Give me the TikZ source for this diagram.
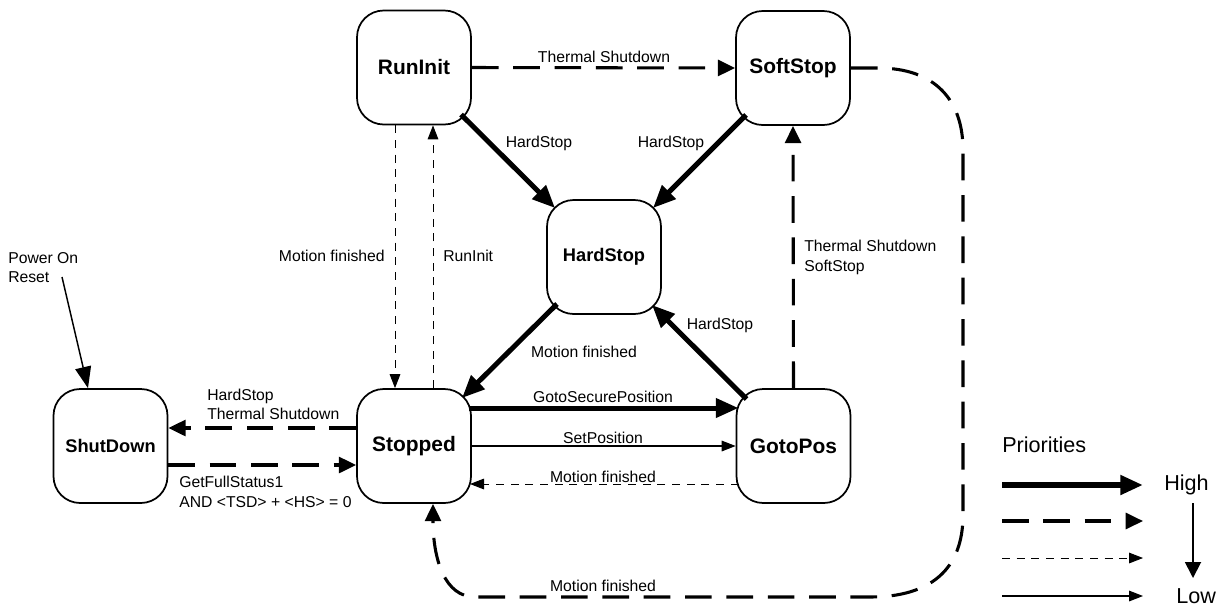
\documentclass[tikz,border=0pt]{standalone}
\usepackage{fontspec}
\setmainfont{Liberation Sans}
\usetikzlibrary{arrows.meta,calc}
\begin{document}
\begin{tikzpicture}[x=0.75pt,y=-0.75pt,
  state/.style={draw, line width=1.3pt, rounded corners=20pt, minimum width=85.5pt, minimum height=85.5pt, inner sep=0pt, font=\fontsize{15.7}{18}\selectfont\bfseries},
  smallstate/.style={state, font=\fontsize{13.7}{16}\selectfont\bfseries},
  lbl/.style={font=\fontsize{11.8}{14.6}\selectfont, inner sep=0pt, align=left},
  biglbl/.style={font=\fontsize{16.2}{19}\selectfont, inner sep=0pt},
  pone/.style={line width=3.75pt, -{Triangle[length=17pt,width=14pt]}},
  ptwo/.style={line width=2.3pt, dash pattern=on 20pt off 11pt, -{Triangle[length=13pt,width=12pt]}},
  pthree/.style={line width=0.7pt, dash pattern=on 6pt off 5pt, -{Triangle[length=10.5pt,width=8pt]}},
  pfour/.style={line width=0.8pt, -{Triangle[length=10.5pt,width=8pt]}},
]
\useasboundingbox (0,0) rectangle (1219,608);

% states
\node[state] (RunInit) at (414,67.5) {RunInit};
\node[state] (SoftStop) at (793,68) {SoftStop};
\node[smallstate] (HardStop) at (604,257) {HardStop};
\node[state] (Stopped) at (414,446) {Stopped};
\node[state] (GotoPos) at (793.5,446) {GotoPos};
\node[smallstate] (ShutDown) at (110.5,446) {ShutDown};

% transitions
\draw[ptwo] (RunInit.east) -- (SoftStop.west);
\draw[pone] ($(RunInit)+(47,47)$) -- ($(HardStop)+(-49,-49)$);
\draw[pone] ($(SoftStop)+(-47,47)$) -- ($(HardStop)+(49,-49)$);
\draw[pone] ($(HardStop)+(-47,47)$) -- ($(Stopped)+(48,-48)$);
\draw[pone] ($(GotoPos)+(-47,-47)$) -- ($(HardStop)+(48,48)$);
\draw[pone] ($(Stopped)+(55,-38)$) -- ($(GotoPos)+(-55,-38)$);
\draw[pfour] (Stopped.east) -- (GotoPos.west);
\draw[pthree] ($(GotoPos)+(-55,38)$) -- ($(Stopped)+(56,38)$);
\draw[ptwo] (GotoPos.north) -- (SoftStop.south);
\draw[pthree] ($(RunInit.south)+(-19,0)$) -- ($(Stopped.north)+(-19,0)$);
\draw[pthree] ($(Stopped.north)+(19,0)$) -- ($(RunInit.south)+(19,0)$);
\draw[ptwo] ($(Stopped.west)+(0,-18)$) -- ($(ShutDown.east)+(0,-18)$);
\draw[ptwo] ($(ShutDown.east)+(0,19)$) -- ($(Stopped.west)+(0,19)$);
\draw[ptwo] (SoftStop.east) -- (878,68) .. controls (935,68) and (963,100) .. (963,150)
  -- (963,515) .. controls (963,570) and (930,597) .. (870,597)
  -- (475,597) .. controls (445,597) and (433,560) .. ($(Stopped.south)+(19,0)$);

% power on reset
\node[lbl, anchor=west] (por) at (8,267.5) {Power On\\Reset};
\coordinate (porstart) at (62,277);
\draw[line width=1.1pt, -{Triangle[length=16pt,width=12pt]}] (porstart) -- ($(ShutDown.north)+(-22.5,0)$);

% labels
\node[lbl] (l1) at (604,57) {Thermal Shutdown};
\node[lbl] (l2) at (539,143) {HardStop};
\node[lbl] (l3) at (671,143) {HardStop};
\node[lbl, anchor=east] (l4) at (385,256) {Motion finished};
\node[lbl, anchor=west] (l5) at (443,256) {RunInit};
\node[lbl] (l6) at (584,352) {Motion finished};
\node[lbl] (l7) at (720,325) {HardStop};
\node[lbl, anchor=west] (l8) at (804,257.5) {Thermal Shutdown\\SoftStop};
\node[lbl] (l9) at (603,397) {GotoSecurePosition};
\node[lbl] (l10) at (603,438) {SetPosition};
\node[lbl] (l11) at (603,477) {Motion finished};
\node[lbl] (l12) at (603,586) {Motion finished};
\node[lbl, anchor=west] (l13) at (207,404.5) {HardStop\\Thermal Shutdown};
\node[lbl, anchor=west] (l14) at (179,492) {GetFullStatus1\\AND <TSD> + <HS> = 0};

% legend
\node[biglbl, anchor=west] (prio) at (1002,445) {Priorities};
\node[biglbl, anchor=west] (high) at (1164,485) {High};
\node[biglbl, anchor=west] (low) at (1176,596) {Low};
\coordinate (a1) at (1002,485); \coordinate (b1) at (1143,485);
\coordinate (a2) at (1002,521); \coordinate (b2) at (1143,521);
\coordinate (a3) at (1002,558); \coordinate (b3) at (1143,558);
\coordinate (a4) at (1002,596); \coordinate (b4) at (1143,596);
\draw[pone, line width=4.3pt] (a1) -- (b1);
\draw[ptwo] (a2) -- (b2);
\draw[pthree] (a3) -- (b3);
\draw[pfour] (a4) -- (b4);
\coordinate (h1) at (1193,503); \coordinate (h2) at (1193,578);
\draw[line width=1.3pt, -{Triangle[length=12pt,width=12pt]}] (h1) -- (h2);
\end{tikzpicture}
\end{document}
